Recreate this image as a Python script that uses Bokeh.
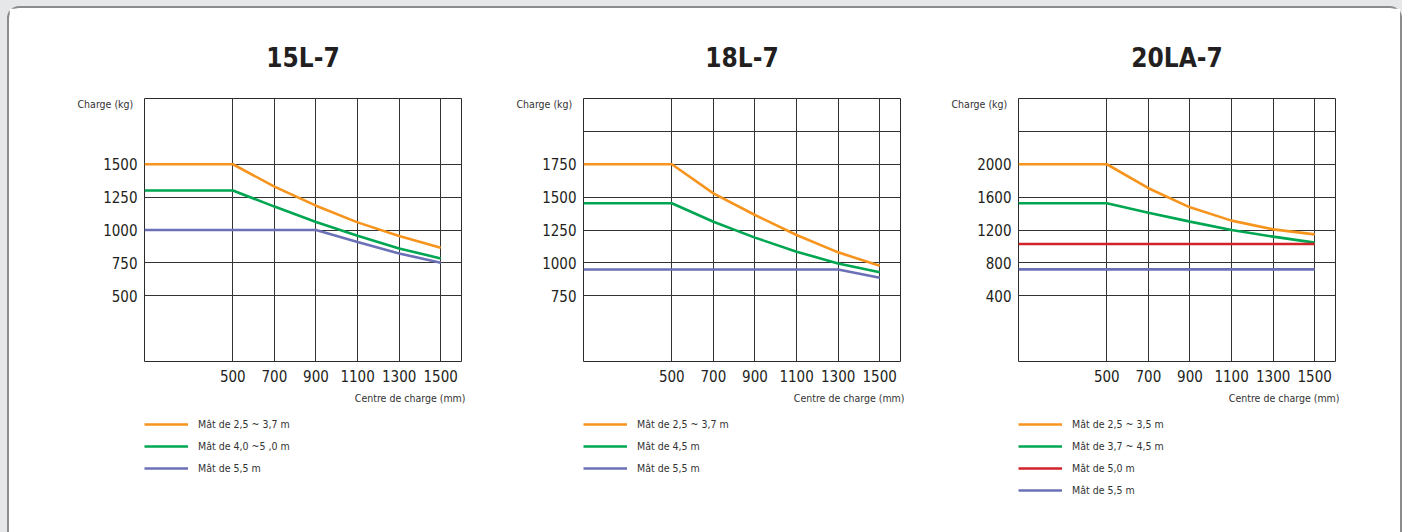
from bokeh.plotting import figure
from bokeh.layouts import row, column
from bokeh.models import FixedTicker, Legend, LegendItem, Range1d, Title
from bokeh.embed import file_html
from bokeh.resources import INLINE

# ---------------- data ----------------
x_ticks = [500, 700, 900, 1100, 1300, 1500]
x_pts = [75, 500, 700, 900, 1100, 1300, 1500]

titles = ["15L-7", "18L-7", "20LA-7"]

# 15L-7
l15_labels = ["Mât de 2,5 ~ 3,7 m", "Mât de 4,0 ~5 ,0 m", "Mât de 5,5 m"]
l15_orange = [1500, 1500, 1330, 1185, 1058, 954, 865]
l15_green = [1300, 1300, 1178, 1061, 957, 860, 784]
l15_blue = [1000, 1000, 1000, 1000, 909, 822, 751]
l15_yticks = [500, 750, 1000, 1250, 1500]
l15_ygrid = [500, 750, 1000, 1250, 1500]
l15_yrange = (0, 2000)

# 18L-7
l18_labels = ["Mât de 2,5 ~ 3,7 m", "Mât de 4,5 m", "Mât de 5,5 m"]
l18_orange = [1750, 1750, 1529, 1364, 1212, 1080, 978]
l18_green = [1453, 1453, 1313, 1192, 1085, 996, 928]
l18_blue = [950, 950, 950, 950, 950, 950, 887]
l18_yticks = [750, 1000, 1250, 1500, 1750]
l18_ygrid = [750, 1000, 1250, 1500, 1750, 2000]
l18_yrange = (250, 2250)

# 20LA-7
l20_labels = ["Mât de 2,5 ~ 3,5 m", "Mât de 3,7 ~ 4,5 m", "Mât de 5,0 m", "Mât de 5,5 m"]
l20_orange = [2000, 2000, 1708, 1476, 1314, 1208, 1147]
l20_green = [1525, 1525, 1411, 1302, 1200, 1119, 1046]
l20_red = [1029, 1029, 1029, 1029, 1029, 1029, 1029]
l20_blue = [721, 721, 721, 721, 721, 721, 721]
l20_yticks = [400, 800, 1200, 1600, 2000]
l20_ygrid = [400, 800, 1200, 1600, 2000, 2400]
l20_yrange = (-400, 2800)

ORANGE = "#F7941D"
GREEN = "#00A651"
BLUE = "#6B70B7"
RED = "#D2232A"

FONT = "DejaVu Sans Condensed"
TXT = "#231F20"
SMALL = "#333333"


def panel(title, series, labels, yticks, ygrid, yrange, left, right):
    p = figure(output_backend="svg", toolbar_location=None,
               frame_width=317, frame_height=263,
               min_border_left=left, min_border_right=right,
               min_border_top=90, min_border_bottom=50,
               x_range=Range1d(75, 1600), y_range=Range1d(*yrange))
    p.border_fill_color = "white"
    p.background_fill_color = "white"
    p.outline_line_color = "#2b2b2b"
    p.outline_line_width = 1

    p.title.text = title
    p.title.align = "center"
    p.title.text_font = FONT
    p.title.text_font_size = "26px"
    p.title.text_font_style = "bold"
    p.title.text_color = TXT
    p.title.standoff = 51

    p.xaxis.ticker = FixedTicker(ticks=x_ticks)
    p.yaxis.ticker = FixedTicker(ticks=yticks)
    p.xgrid.ticker = FixedTicker(ticks=x_ticks)
    p.ygrid.ticker = FixedTicker(ticks=ygrid)
    p.grid.grid_line_color = "#333333"
    p.grid.grid_line_width = 1
    p.grid.grid_line_alpha = 1

    for ax in (p.xaxis[0], p.yaxis[0]):
        ax.axis_line_color = None
        ax.major_tick_line_color = None
        ax.minor_tick_line_color = None
        ax.major_tick_out = 0
        ax.major_tick_in = 0
        ax.minor_tick_out = 0
        ax.minor_tick_in = 0
        ax.major_label_text_font = FONT
        ax.major_label_text_font_size = "15px"
        ax.major_label_text_color = TXT
    p.yaxis.major_label_standoff = 7
    p.xaxis.major_label_standoff = 8

    p.add_layout(Title(text="Centre de charge (mm)", align="right", offset=-4,
                       text_font=FONT, text_font_size="10.5px", text_font_style="normal",
                       text_color=SMALL, standoff=10), "below")

    p.add_layout(Title(text="Charge (kg)", align="left", offset=-67, standoff=-22,
                       text_font=FONT, text_font_size="10.5px", text_font_style="normal",
                       text_color=SMALL), "above")

    for ys, col in series:
        p.line(x_pts, ys, line_color=col, line_width=2.6)

    # legend drawn in its own strip below the chart
    lg = figure(output_backend="svg", toolbar_location=None,
                frame_width=317, frame_height=118,
                min_border_left=left, min_border_right=right,
                min_border_top=3, min_border_bottom=0,
                x_axis_location=None, y_axis_location=None,
                x_range=Range1d(0, 1), y_range=Range1d(0, 1))
    lg.border_fill_color = "white"
    lg.background_fill_color = "white"
    lg.outline_line_color = None
    lg.grid.visible = False
    items = []
    for (ys, col), lab in zip(series, labels):
        # single-point proxy (draws no segment) so the legend has a glyph colour
        r = lg.line(x=[x_pts[0]], y=[ys[0]], line_color=col, line_width=2.6)
        items.append(LegendItem(label=lab, renderers=[r]))
    leg = Legend(items=items, location="top_left", orientation="vertical",
                 margin=0, padding=0, glyph_width=44, glyph_height=20,
                 label_height=20, spacing=2, label_standoff=10,
                 border_line_color=None, background_fill_alpha=0,
                 label_text_font=FONT, label_text_font_size="10.5px",
                 label_text_color=SMALL)
    lg.add_layout(leg)
    return column(p, lg)


c1 = panel(titles[0], [(l15_orange, ORANGE), (l15_green, GREEN), (l15_blue, BLUE)],
           l15_labels, l15_yticks, l15_ygrid, l15_yrange, 135, 10)
c2 = panel(titles[1], [(l18_orange, ORANGE), (l18_green, GREEN), (l18_blue, BLUE)],
           l18_labels, l18_yticks, l18_ygrid, l18_yrange, 112, 10)
c3 = panel(titles[2], [(l20_orange, ORANGE), (l20_green, GREEN), (l20_red, RED), (l20_blue, BLUE)],
           l20_labels, l20_yticks, l20_ygrid, l20_yrange, 108, 65)

box = row(c1, c2, c3, margin=(6, 0, 0, 7), styles={
    "background-color": "white",
    "border-left": "2px solid #8c8c8c",
    "border-top": "2px solid #8c8c8c",
    "border-right": "2px solid #8c8c8c",
    "border-top-left-radius": "12px",
    "border-top-right-radius": "12px",
})
page = column(box, styles={"background-color": "#e6e7e9"})

open("out.html", "w").write(file_html(page, INLINE))
